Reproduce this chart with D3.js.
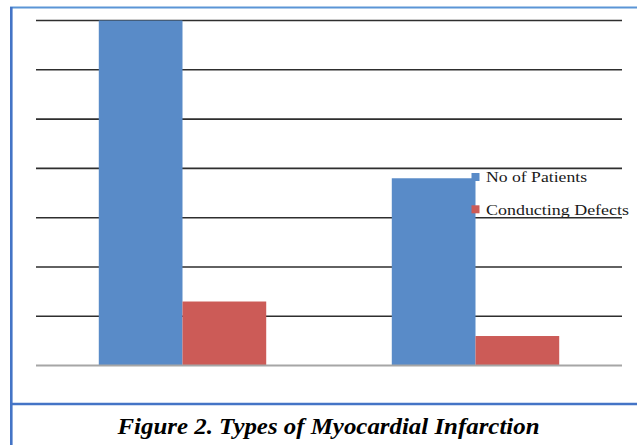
<!DOCTYPE html>
<html>
<head>
<meta charset="utf-8">
<script src="https://cdn.jsdelivr.net/npm/d3@7"></script>
<style>
  body { margin: 0; background: #fff; }
  svg { display: block; }
</style>
</head>
<body>
<div id="chart"></div>
<script>
// Data (axis labels are hidden in the original)
const categories = ['Type A', 'Type B'];
const seriesNames = ['No of Patients', 'Conducting Defects'];
const patients = [70, 38];
const conductingDefects = [13, 6];
const gridTicks = [0, 10, 20, 30, 40, 50, 60, 70];
const caption = 'Figure 2. Types of Myocardial Infarction';

const seriesValues = [patients, conductingDefects];
const colors = ['#598bc8', '#cc5b57'];

const W = 637, H = 445;
const margin = { top: 20.5, right: 15, bottom: 79.4, left: 36 };
const width = W - margin.left - margin.right;
const height = H - margin.top - margin.bottom;

const svg = d3.select('#chart')
    .append('svg')
    .attr('width', W)
    .attr('height', H);

// Outer frame lines
svg.append('line')
    .attr('x1', 10).attr('x2', 637).attr('y1', 7.5).attr('y2', 7.5)
    .attr('stroke', '#5b95d6').attr('stroke-width', 2);
svg.append('line')
    .attr('x1', 11.3).attr('x2', 11.3).attr('y1', 7).attr('y2', H)
    .attr('stroke', '#4474c6').attr('stroke-width', 2.6);
svg.append('line')
    .attr('x1', 11).attr('x2', W).attr('y1', 404).attr('y2', 404)
    .attr('stroke', '#4474c6').attr('stroke-width', 2.6);

const g = svg.append('g')
    .attr('transform', `translate(${margin.left},${margin.top})`);

// Scales
const x0 = d3.scaleBand()
    .domain(categories)
    .range([0, width])
    .padding(0);

const x1 = d3.scaleBand()
    .domain(seriesNames)
    .range([0, x0.bandwidth()])
    .paddingInner(0)
    .paddingOuter(0.75);

const yScale = d3.scaleLinear()
    .domain([0, 70])
    .range([height, 0]);

// Gridlines
g.append('g')
    .selectAll('line')
    .data(gridTicks.filter(t => t > 0))
    .enter()
    .append('line')
    .attr('x1', 0)
    .attr('x2', width)
    .attr('y1', d => yScale(d))
    .attr('y2', d => yScale(d))
    .attr('stroke', '#2e2e2e')
    .attr('stroke-width', 1.6);

// Bars
const rows = [];
categories.forEach((c, i) => {
    seriesNames.forEach((s, j) => {
        rows.push({ category: c, series: s, value: seriesValues[j][i], color: colors[j] });
    });
});

g.selectAll('rect.bar')
    .data(rows)
    .enter()
    .append('rect')
    .attr('class', 'bar')
    .attr('x', d => x0(d.category) + x1(d.series))
    .attr('y', d => yScale(d.value))
    .attr('width', x1.bandwidth())
    .attr('height', d => yScale(0) - yScale(d.value))
    .attr('fill', d => d.color);

// Baseline
g.append('line')
    .attr('x1', 0)
    .attr('x2', width)
    .attr('y1', yScale(0))
    .attr('y2', yScale(0))
    .attr('stroke', '#a6a6a6')
    .attr('stroke-width', 2);

// Legend
const legend = svg.append('g')
    .attr('transform', 'translate(471.5, 173)');

seriesNames.forEach((name, i) => {
    const row = legend.append('g')
        .attr('transform', `translate(0, ${i * 32.3})`);

    row.append('rect')
        .attr('x', 0)
        .attr('y', 0)
        .attr('width', 8)
        .attr('height', 8)
        .attr('fill', colors[i]);

    row.append('text')
        .attr('x', 14.5)
        .attr('y', 9.3)
        .attr('font-family', '"Liberation Serif", serif')
        .attr('font-size', '15.5px')
        .attr('fill', '#1a1a1a')
        .attr('textLength', i === 0 ? 101 : 143)
        .attr('lengthAdjust', 'spacingAndGlyphs')
        .text(name);
});

// Caption
svg.append('text')
    .attr('x', 117.5)
    .attr('y', 433.5)
    .attr('font-family', '"Liberation Serif", serif')
    .attr('font-size', '23px')
    .attr('font-weight', 'bold')
    .attr('font-style', 'italic')
    .attr('fill', '#000')
    .attr('textLength', 422)
    .attr('lengthAdjust', 'spacingAndGlyphs')
    .text(caption);
</script>
</body>
</html>
